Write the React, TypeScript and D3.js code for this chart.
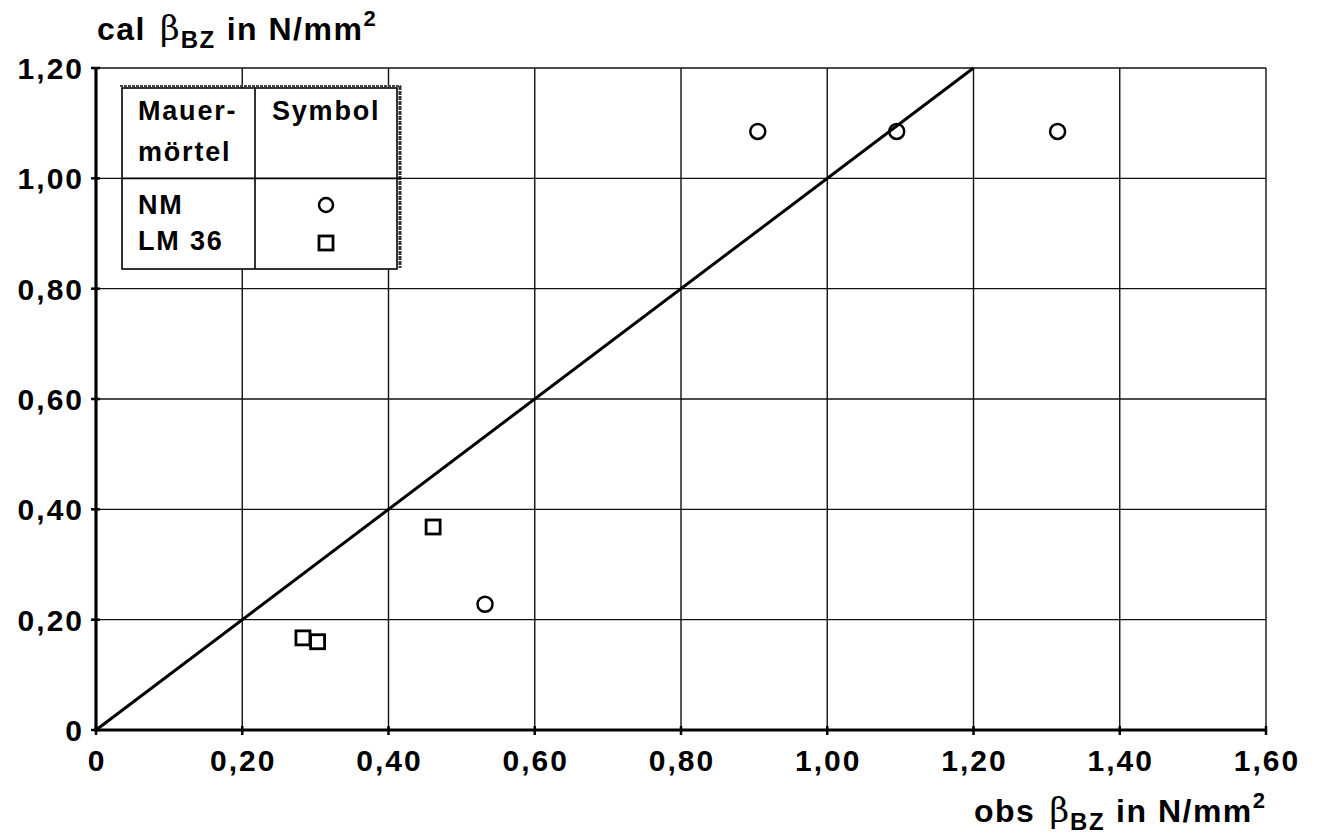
import React from "react";
import * as d3 from "d3";

// Measured vs. calculated tensile strength (N/mm²)
const nmObs = [0.905, 1.095, 1.315, 0.532];
const nmCal = [1.085, 1.085, 1.085, 0.228];
const lmObs = [0.283, 0.303, 0.461];
const lmCal = [0.167, 0.16, 0.368];
const lineEnds = [0, 1.2];
const xTicks = [0, 0.2, 0.4, 0.6, 0.8, 1.0, 1.2, 1.4, 1.6];
const yTicks = [0, 0.2, 0.4, 0.6, 0.8, 1.0, 1.2];
const legendRows = ["NM", "LM 36"];

const W = 1319;
const H = 836;
const FONT = "'Liberation Sans', Arial, sans-serif";

const fmt = (v: number) => (v === 0 ? "0" : d3.format(".2f")(v).replace(".", ","));

export default function App() {
  const x = d3.scaleLinear().domain([0, 1.6]).range([96, 1266]);
  const y = d3.scaleLinear().domain([0, 1.2]).range([730, 68]);
  const line = d3
    .line<number>()
    .x((d) => x(d))
    .y((d) => y(d));

  const sq = 14;

  const AxisTitle = ({ tx, ty, pre }: { tx: number; ty: number; pre: string }) => (
    <text x={tx} y={ty} fontFamily={FONT} fontWeight="bold" fontSize={32} letterSpacing={1.5} fill="#000">
      <tspan>{pre}</tspan>
      <tspan fontFamily="'DejaVu Serif', serif" fontWeight="normal" fontSize={34} letterSpacing={1} dx={14}>
        β
      </tspan>
      <tspan fontSize={24} dy={8} letterSpacing={1.5}>
        BZ
      </tspan>
      <tspan dy={-8} dx={11}>
        in N/mm
      </tspan>
      <tspan fontSize={22} dy={-14}>
        2
      </tspan>
    </text>
  );

  return (
    <svg width={W} height={H} style={{ position: "absolute", left: 0, top: 0, background: "#fff" }}>
      <rect x={0} y={0} width={W} height={H} fill="#fff" />
      {/* grid */}
      <g stroke="#111" strokeWidth={1.4}>
        {xTicks.slice(1).map((t) => (
          <line key={"gx" + t} x1={x(t)} x2={x(t)} y1={y(1.2)} y2={y(0)} />
        ))}
        {yTicks.slice(1).map((t) => (
          <line key={"gy" + t} x1={x(0)} x2={x(1.6)} y1={y(t)} y2={y(t)} />
        ))}
      </g>
      {/* axes */}
      <g stroke="#000" strokeWidth={3.2}>
        <line x1={x(0)} x2={x(0)} y1={y(1.2) - 1} y2={y(0) + 1.5} />
        <line x1={x(0) - 1.5} x2={x(1.6) + 1} y1={y(0)} y2={y(0)} />
        {xTicks.map((t) => (
          <line key={"tx" + t} x1={x(t)} x2={x(t)} y1={y(0) - 4} y2={y(0) + 5} strokeWidth={2.5} />
        ))}
        {yTicks.map((t) => (
          <line key={"ty" + t} x1={x(0) - 5} x2={x(0) + 4} y1={y(t)} y2={y(t)} strokeWidth={2.5} />
        ))}
      </g>
      {/* tick labels */}
      <g fontFamily={FONT} fontWeight="bold" fontSize={30} fill="#000" letterSpacing={2}>
        {yTicks.map((t) => (
          <text key={"ly" + t} x={x(0) - 12} y={y(t) + 11} textAnchor="end">
            {fmt(t)}
          </text>
        ))}
        {xTicks.map((t) => (
          <text key={"lx" + t} x={x(t) + 1} y={y(0) + 41} textAnchor="middle">
            {fmt(t)}
          </text>
        ))}
      </g>
      {/* 1:1 line */}
      <path d={line(lineEnds) || ""} fill="none" stroke="#000" strokeWidth={3} />
      {/* points */}
      {nmObs.map((v, i) => (
        <circle key={"nm" + i} cx={x(v)} cy={y(nmCal[i])} r={7.5} fill="none" stroke="#000" strokeWidth={2.5} />
      ))}
      {lmObs.map((v, i) => (
        <rect
          key={"lm" + i}
          x={x(v) - sq / 2}
          y={y(lmCal[i]) - sq / 2}
          width={sq}
          height={sq}
          fill="#fff"
          stroke="#000"
          strokeWidth={2.8}
        />
      ))}
      {/* legend table */}
      <g>
        <rect x={122} y={88} width={275} height={181} fill="#fff" stroke="#000" strokeWidth={1.6} />
        <line x1={120} x2={401} y1={86} y2={86} stroke="#444" strokeWidth={2.2} strokeDasharray="3 1" />
        <line x1={400} x2={400} y1={86} y2={268} stroke="#333" strokeWidth={3} strokeDasharray="4 1" />
        <line x1={255} x2={255} y1={88} y2={269} stroke="#000" strokeWidth={1.6} />
        <line x1={122} x2={401} y1={y(1.0)} y2={y(1.0)} stroke="#000" strokeWidth={1.6} />
        <g fontFamily={FONT} fontWeight="bold" fontSize={27} fill="#000" letterSpacing={1.8}>
          <text x={138} y={120}>Mauer-</text>
          <text x={138} y={161}>mörtel</text>
          <text x={272} y={120}>Symbol</text>
          {legendRows.map((r, i) => (
            <text key={r} x={138} y={214 + i * 36}>
              {r}
            </text>
          ))}
        </g>
        <circle cx={326} cy={205} r={7} fill="none" stroke="#000" strokeWidth={2.5} />
        <rect x={319} y={236} width={14} height={14} fill="none" stroke="#000" strokeWidth={2.8} />
      </g>
      {/* axis titles */}
      <AxisTitle tx={97} ty={40} pre="cal" />
      <AxisTitle tx={974} ty={822} pre="obs" />
    </svg>
  );
}
